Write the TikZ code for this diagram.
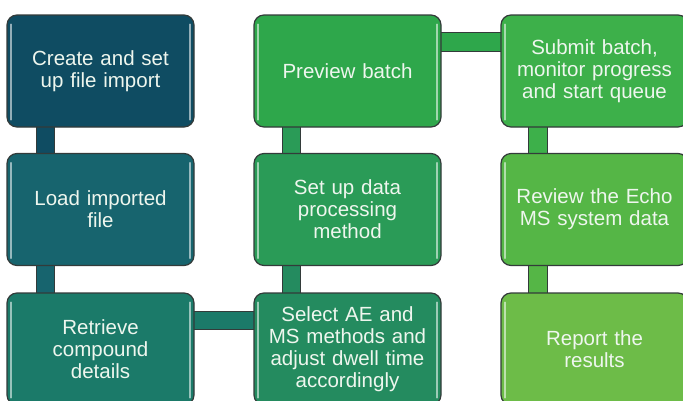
\documentclass[tikz,border=0pt]{standalone}
\usepackage{fontspec}
\setmainfont{Liberation Sans}
\usetikzlibrary{backgrounds}
\definecolor{cA}{HTML}{0F4C62}
\definecolor{cB}{HTML}{17646E}
\definecolor{cC}{HTML}{1B7A69}
\definecolor{cD}{HTML}{2EA74B}
\definecolor{cE}{HTML}{2A9B57}
\definecolor{cF}{HTML}{248B5F}
\definecolor{cG}{HTML}{3DB04A}
\definecolor{cH}{HTML}{55B646}
\definecolor{cI}{HTML}{6DBC48}
\definecolor{edge}{HTML}{333B3A}
\definecolor{txt}{HTML}{EEF6EE}
\tikzset{
  stepbox/.style={draw=edge, line width=1.2pt, rounded corners=10pt,
    minimum width=187pt, minimum height=112pt, text width=178pt,
    align=center, text=txt, font=\fontsize{20.5}{22}\selectfont, inner sep=0pt},
  bar/.style={draw=edge, line width=1.1pt},
  shine/.style={line width=1.8pt, line cap=round},
}
\begin{document}
\begin{tikzpicture}[x=1pt, y=-1pt]
\clip (0,0) rectangle (683,400);
% process steps
\node[stepbox, fill=cA] (b1) at (100.5,71)    {Create and set\\up file import};
\node[stepbox, fill=cB] (b2) at (100.5,209.5) {Load imported\\file};
\node[stepbox, fill=cC] (b3) at (100.5,349)   {Retrieve\\compound\\details};
\node[stepbox, fill=cF] (b6) at (347.5,349)   {Select AE and\\MS methods and\\adjust dwell time\\accordingly};
\node[stepbox, fill=cE] (b5) at (347.5,209.5) {Set up data\\processing\\method};
\node[stepbox, fill=cD] (b4) at (347.5,71)    {Preview batch};
\node[stepbox, fill=cG] (b7) at (594.5,71)    {Submit batch,\\monitor progress\\and start queue};
\node[stepbox, fill=cH] (b8) at (594.5,209.5) {Review the Echo\\MS system data};
\node[stepbox, fill=cI] (b9) at (594.5,349)   {Report the\\results};
% glossy edge highlights
\foreach \b/\c in {b1/cA,b2/cB,b3/cC,b4/cD,b5/cE,b6/cF,b7/cG,b8/cH,b9/cI}{
  \draw[shine, draw=\c!45!white] ([xshift=4.5pt,yshift=-10pt]\b.north west) -- ([xshift=4.5pt,yshift=8pt]\b.south west);
  \draw[shine, draw=\c!45!white] ([xshift=-4.5pt,yshift=-10pt]\b.north east) -- ([xshift=-4.5pt,yshift=8pt]\b.south east);
}
% connecting bars, behind the boxes
\begin{scope}[on background layer]
\draw[bar, fill=cA] ([xshift=30pt,yshift=1pt]b1.south west) rectangle ([xshift=48pt,yshift=-1pt]b2.north west);
\draw[bar, fill=cB] ([xshift=30pt,yshift=1pt]b2.south west) rectangle ([xshift=48pt,yshift=-1pt]b3.north west);
\draw[bar, fill=cC] ([xshift=-1pt,yshift=-19pt]b3.north east) rectangle ([xshift=1pt,yshift=-37pt]b6.north west);
\draw[bar, fill=cF] ([xshift=29pt,yshift=-1pt]b6.north west) rectangle ([xshift=47pt,yshift=1pt]b5.south west);
\draw[bar, fill=cE] ([xshift=29pt,yshift=-1pt]b5.north west) rectangle ([xshift=47pt,yshift=1pt]b4.south west);
\draw[bar, fill=cD] ([xshift=-1pt,yshift=-18pt]b4.north east) rectangle ([xshift=1pt,yshift=-37pt]b7.north west);
\draw[bar, fill=cG] ([xshift=28pt,yshift=1pt]b7.south west) rectangle ([xshift=47pt,yshift=-1pt]b8.north west);
\draw[bar, fill=cH] ([xshift=28pt,yshift=1pt]b8.south west) rectangle ([xshift=47pt,yshift=-1pt]b9.north west);
\end{scope}
\end{tikzpicture}
\end{document}
